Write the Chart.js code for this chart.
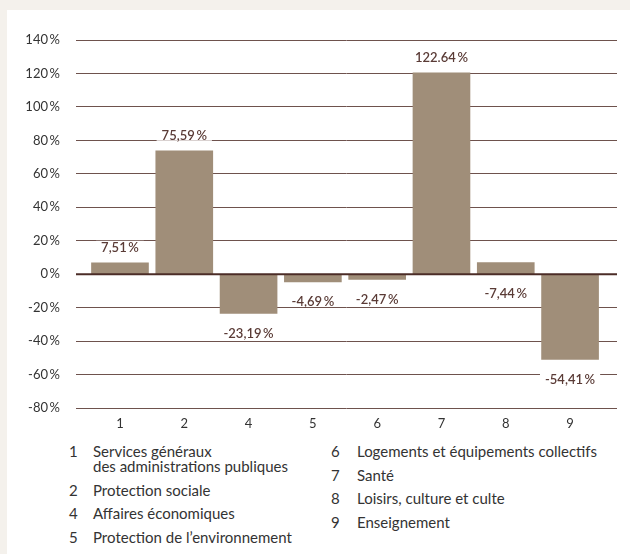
<!DOCTYPE html>
<html>
<head>
<meta charset="utf-8">
<script src="https://cdn.jsdelivr.net/npm/chart.js@4"></script>
<style>
    body { margin: 0; background: #f4f1ec; font-family: Lato, "Open Sans", sans-serif; }
    #panel { position: absolute; left: 7px; top: 10px; right: 0; bottom: 0; background: #fff; }
    #chart { position: absolute; left: 0; top: 0; }
    .col { position: absolute; top: 444px; font-size: 15px; line-height: 15px; color: #333; }
    .item { display: flex; margin-bottom: 8.5px; }
    .num { flex: none; }
    .txt { white-space: pre-line; }
</style>
</head>
<body>
<div id="panel"></div>
<canvas id="chart" width="630" height="440"></canvas>
<div class="col" id="legend-left" style="left: 69px;"></div>
<div class="col" id="legend-right" style="left: 331px;"></div>

<script>
// Categories (function codes) and their names
const categories = ['1', '2', '4', '5', '6', '7', '8', '9'];
const categoryNames = [
    'Services généraux\ndes administrations publiques',
    'Protection sociale',
    'Affaires économiques',
    'Protection de l\u2019environnement',
    'Logements et équipements collectifs',
    'Santé',
    'Loisirs, culture et culte',
    'Enseignement'
];
// Bar heights as drawn in the picture (%)
const barValues = [6.8, 73.8, -23.5, -4.6, -3.2, 120.4, 7.0, -50.9];
// Labels printed next to the bars
const barLabels = ['7,51\u2009%', '75,59\u2009%', '-23,19\u2009%', '-4,69\u2009%', '-2,47\u2009%', '122.64\u2009%', '-7,44\u2009%', '-54,41\u2009%'];
// Y axis
const yTicks = [-80, -60, -40, -20, 0, 20, 40, 60, 80, 100, 120, 140];

const barColor = '#a08e79';
const gridColor = '#6e524d';
const zeroColor = '#4b2c27';
const labelColor = '#5a3b36';
const tickColor = '#333333';
const fontFamily = 'Lato, "Open Sans", sans-serif';

// Value labels with white box behind, and zero line on top of bars
const labelPlugin = {
    id: 'barLabels',
    afterDatasetsDraw(chart) {
        const ctx = chart.ctx;
        const area = chart.chartArea;
        const y0 = chart.scales.y.getPixelForValue(0);
        ctx.save();
        ctx.strokeStyle = zeroColor;
        ctx.lineWidth = 2;
        ctx.beginPath();
        ctx.moveTo(area.left, y0);
        ctx.lineTo(area.right, y0);
        ctx.stroke();

        ctx.font = '600 13px ' + fontFamily;
        ctx.textAlign = 'center';
        ctx.textBaseline = 'middle';
        chart.getDatasetMeta(0).data.forEach((bar, i) => {
            const text = barLabels[i];
            let y;
            if (text.startsWith('-')) {
                y = Math.max(bar.y, bar.base) + 19;
            } else {
                y = Math.min(bar.y, bar.base) - 16;
            }
            const w = ctx.measureText(text).width + 10;
            ctx.fillStyle = '#ffffff';
            ctx.fillRect(bar.x - w / 2, y - 6, w, 12);
            ctx.fillStyle = labelColor;
            ctx.fillText(text, bar.x, y + 1);
        });
        ctx.restore();
    }
};

new Chart(document.getElementById('chart'), {
    type: 'bar',
    data: {
        datasets: [{
            data: barValues.map((v, i) => ({ x: i, y: v })),
            backgroundColor: barColor,
            borderWidth: 0,
            barThickness: 57
        }]
    },
    options: {
        responsive: false,
        animation: false,
        devicePixelRatio: 1,
        layout: { padding: { top: 40, right: 13, left: 0, bottom: 0 } },
        plugins: {
            legend: { display: false },
            tooltip: { enabled: false }
        },
        scales: {
            x: {
                type: 'linear',
                offset: false,
                min: -0.684,
                max: 7.73,
                afterBuildTicks: s => { s.ticks = categories.map((c, i) => ({ value: i })); },
                afterFit: s => { s.height = 32; },
                grid: { display: false, drawTicks: false },
                border: { display: false },
                ticks: {
                    padding: 8,
                    color: tickColor,
                    font: { family: fontFamily, size: 13 },
                    callback: v => categories[v]
                }
            },
            y: {
                min: -80,
                max: 140,
                afterBuildTicks: s => { s.ticks = yTicks.map(v => ({ value: v })); },
                afterFit: s => { s.width = 76; },
                grid: { color: gridColor, lineWidth: 1, drawTicks: false },
                border: { display: false },
                ticks: {
                    padding: 16,
                    color: tickColor,
                    font: { family: fontFamily, size: 13 },
                    callback: v => v + '\u2009%'
                }
            }
        }
    },
    plugins: [labelPlugin]
});

// Legend below the chart, two columns
function buildLegend(el, from, to, numWidth) {
    for (let i = from; i < to; i++) {
        const item = document.createElement('div');
        item.className = 'item';
        const num = document.createElement('span');
        num.className = 'num';
        num.style.width = numWidth + 'px';
        num.textContent = categories[i];
        const txt = document.createElement('span');
        txt.className = 'txt';
        txt.textContent = categoryNames[i];
        item.appendChild(num);
        item.appendChild(txt);
        el.appendChild(item);
    }
}
buildLegend(document.getElementById('legend-left'), 0, 4, 24);
buildLegend(document.getElementById('legend-right'), 4, 8, 26);
</script>
</body>
</html>
